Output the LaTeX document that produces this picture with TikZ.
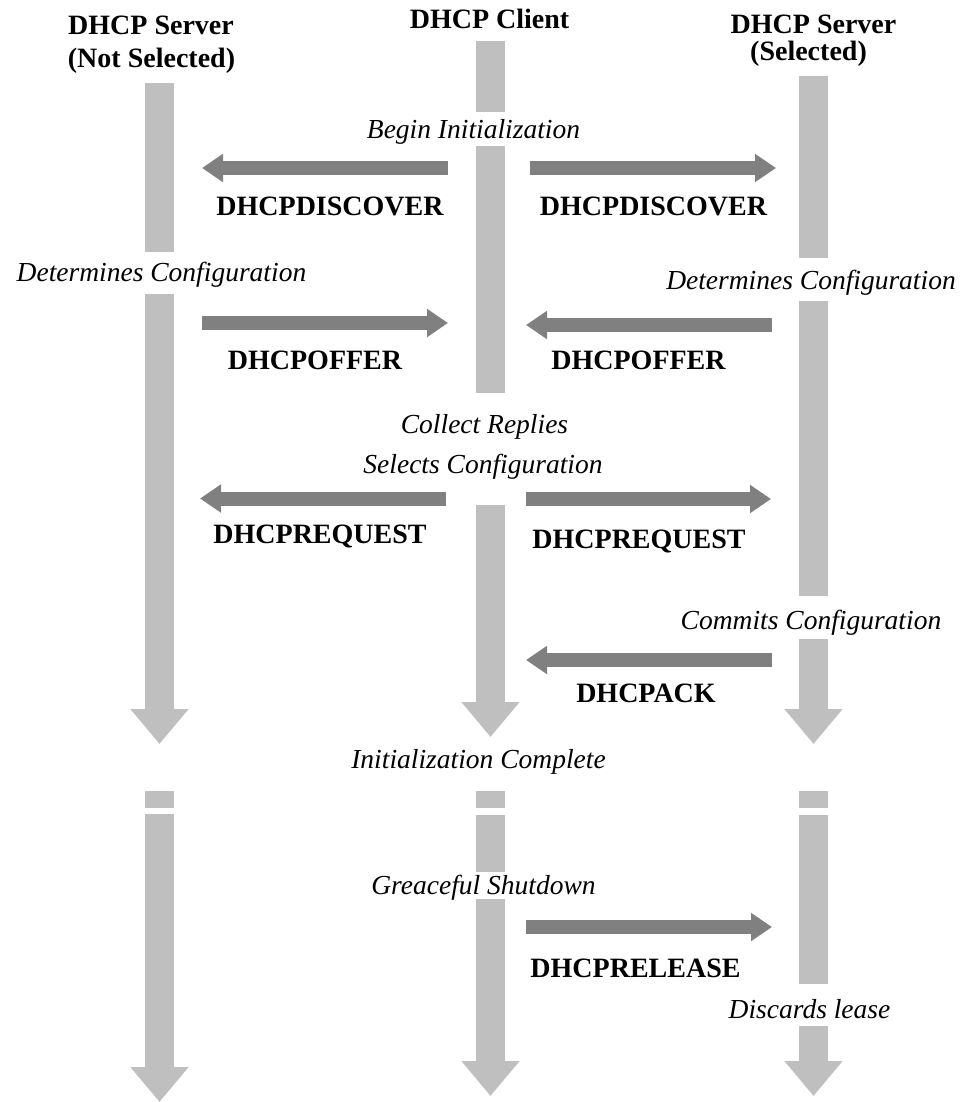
\documentclass[tikz,border=0pt]{standalone}
\usepackage{fontspec}
\setmainfont{Liberation Serif}
\usetikzlibrary{arrows.meta}
\definecolor{lifegray}{RGB}{191,191,191}
\definecolor{msggray}{RGB}{128,128,128}

\tikzset{
  life/.style={draw=lifegray, line width=29pt},
  lifeend/.style={life, -{Triangle[length=35pt,width=56pt]}},
  msg/.style={draw=msggray, line width=14pt, -{Triangle[length=21pt,width=27pt]}},
  msglabel/.style={font=\fontsize{28}{30}\selectfont\bfseries, inner sep=0pt},
  title/.style={font=\fontsize{28}{30}\selectfont\bfseries, inner sep=0pt, anchor=base},
  note/.style={font=\fontsize{27.5}{30}\selectfont\itshape, inner sep=0pt},
}

\begin{document}
\begin{tikzpicture}[x=1pt, y=-1pt]
\useasboundingbox (0,0) rectangle (965,1102);

% ---- column titles ----
\node[title] (tL1) at (151,35) {DHCP Server};
\node[title] (tL2) at (151.5,68) {(Not Selected)};
\node[title] (tC)  at (489.5,29) {DHCP Client};
\node[title] (tR1) at (813.5,34) {DHCP Server};
\node[title] (tR2) at (808.5,61) {(Selected)};

% ---- lifeline points: server not selected ----
\coordinate (L0) at (159.5,83);
\coordinate (L1) at (159.5,252);
\coordinate (L2) at (159.5,294);
\coordinate (L3) at (159.5,744);
\coordinate (L4) at (159.5,791);
\coordinate (L5) at (159.5,808);
\coordinate (L6) at (159.5,814);
\coordinate (L7) at (159.5,1102);

% ---- lifeline points: client ----
\coordinate (M0) at (490.5,41);
\coordinate (M1) at (490.5,112);
\coordinate (M2) at (490.5,146);
\coordinate (M3) at (490.5,393);
\coordinate (M4) at (490.5,505);
\coordinate (M5) at (490.5,737);
\coordinate (M6) at (490.5,791);
\coordinate (M7) at (490.5,808);
\coordinate (M8) at (490.5,815);
\coordinate (M9) at (490.5,872);
\coordinate (M10) at (490.5,899);
\coordinate (M11) at (490.5,1096);

% ---- lifeline points: server selected ----
\coordinate (R0) at (813.5,76);
\coordinate (R1) at (813.5,258);
\coordinate (R2) at (813.5,301);
\coordinate (R3) at (813.5,596);
\coordinate (R4) at (813.5,639);
\coordinate (R5) at (813.5,744);
\coordinate (R6) at (813.5,791);
\coordinate (R7) at (813.5,808);
\coordinate (R8) at (813.5,815);
\coordinate (R9) at (813.5,984);
\coordinate (R10) at (813.5,1026);
\coordinate (R11) at (813.5,1096);

% ---- lifelines ----
\draw[life] (L0) -- (L1);
\draw[lifeend] (L2) -- (L3);
\draw[life] (L4) -- (L5);
\draw[lifeend] (L6) -- (L7);

\draw[life] (M0) -- (M1);
\draw[life] (M2) -- (M3);
\draw[lifeend] (M4) -- (M5);
\draw[life] (M6) -- (M7);
\draw[life] (M8) -- (M9);
\draw[lifeend] (M10) -- (M11);

\draw[life] (R0) -- (R1);
\draw[life] (R2) -- (R3);
\draw[lifeend] (R4) -- (R5);
\draw[life] (R6) -- (R7);
\draw[life] (R8) -- (R9);
\draw[lifeend] (R10) -- (R11);

% ---- message end points ----
\coordinate (dLs) at (448,168);   \coordinate (dLe) at (202,168);
\coordinate (dRs) at (530,168);   \coordinate (dRe) at (776,168);
\coordinate (oLs) at (202,323);   \coordinate (oLe) at (448,323);
\coordinate (oRs) at (772,325);   \coordinate (oRe) at (526,325);
\coordinate (qLs) at (446,498.5); \coordinate (qLe) at (200,498.5);
\coordinate (qRs) at (526,499);   \coordinate (qRe) at (771,499);
\coordinate (aRs) at (772,660);   \coordinate (aRe) at (526,660);
\coordinate (rCs) at (526,927);   \coordinate (rCe) at (772,927);

% ---- messages ----
\draw[msg] (dLs) -- (dLe);
\draw[msg] (dRs) -- (dRe);
\draw[msg] (oLs) -- (oLe);
\draw[msg] (oRs) -- (oRe);
\draw[msg] (qLs) -- (qLe);
\draw[msg] (qRs) -- (qRe);
\draw[msg] (aRs) -- (aRe);
\draw[msg] (rCs) -- (rCe);

% ---- message names ----
\node[msglabel] (lDL) at (330,206) {DHCPDISCOVER};
\node[msglabel] (lDR) at (653.5,206) {DHCPDISCOVER};
\node[msglabel] (lOL) at (315,360) {DHCPOFFER};
\node[msglabel] (lOR) at (638.5,360) {DHCPOFFER};
\node[msglabel] (lQL) at (320,536) {DHCPREQUEST};
\node[msglabel] (lQR) at (639,541) {DHCPREQUEST};
\node[msglabel] (lA)  at (646,693) {DHCPACK};
\node[msglabel] (lR)  at (635.5,968) {DHCPRELEASE};

% ---- state notes ----
\node[note] (n1) at (473.5,132) {Begin Initialization};
\node[note] (n2) at (161.5,275) {Determines Configuration};
\node[note] (n3) at (811,283) {Determines Configuration};
\node[note] (n4) at (484.5,427) {Collect Replies};
\node[note] (n5) at (483,467) {Selects Configuration};
\node[note] (n6) at (811,623) {Commits Configuration};
\node[note] (n7) at (478.5,762) {Initialization Complete};
\node[note] (n8) at (483.5,888) {Greaceful Shutdown};
\node[note] (n9) at (809.5,1009) {Discards lease};
\end{tikzpicture}
\end{document}
